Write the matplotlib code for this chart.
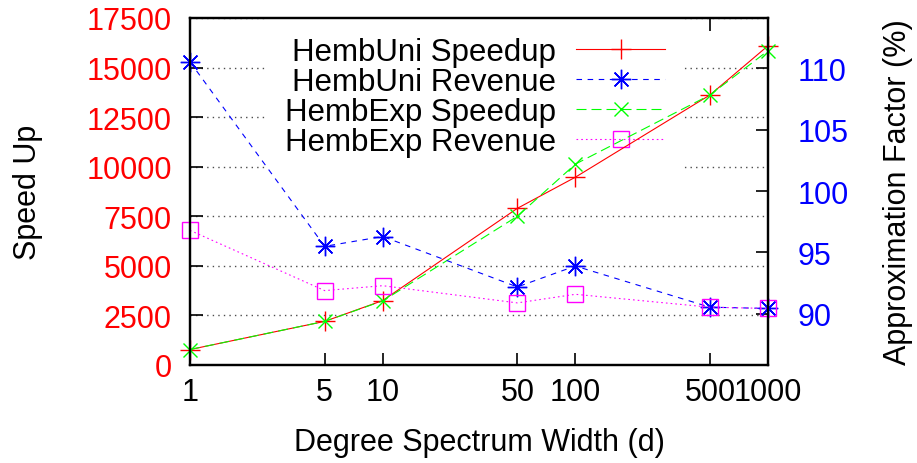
#!/usr/bin/env python3
"""Speedup and approximation factor vs. degree spectrum width (gnuplot-style)."""

import matplotlib
matplotlib.use("Agg")
import matplotlib.pyplot as plt
from matplotlib.ticker import FixedLocator, NullLocator

# data
widths = [1, 5, 10, 50, 100, 500, 1000]
uni_speedup = [780, 2200, 3250, 7900, 9470, 13620, 16100]
exp_speedup = [780, 2200, 3230, 7500, 10130, 13620, 15850]
uni_revenue = [110.5, 95.5, 96.3, 92.2, 93.9, 90.55, 90.45]
exp_revenue = [96.8, 91.9, 92.3, 90.9, 91.6, 90.55, 90.45]

x_ticks = [1, 5, 10, 50, 100, 500, 1000]
left_ticks = [0, 2500, 5000, 7500, 10000, 12500, 15000, 17500]
right_ticks = [90, 95, 100, 105, 110]

plt.rcParams["font.family"] = ["Liberation Sans", "DejaVu Sans"]
plt.rcParams["font.size"] = 22
plt.rcParams["lines.scale_dashes"] = False

fig = plt.figure(figsize=(9.17, 4.64), dpi=100)
ax = fig.add_axes([190 / 917, 98 / 464, 578 / 917, 347 / 464])
ax2 = ax.twinx()

l1, = ax.plot(widths, uni_speedup, color="#ff0000", lw=0.8, marker="+",
              ms=14, mew=1.0, label="HembUni Speedup", clip_on=False)
l3, = ax.plot(widths, exp_speedup, color="#00ff00", lw=0.8, ls=(0, (7.2, 3.6)),
              marker="x", ms=10, mew=1.0, label="HembExp Speedup", clip_on=False)
l2, = ax2.plot(widths, uni_revenue, color="#0000ff", lw=0.8, ls=(0, (4.0, 4.0)),
               marker=(8, 2, 0), ms=14, mew=1.0, label="HembUni Revenue", clip_on=False)
l4, = ax2.plot(widths, exp_revenue, color="#ff00ff", lw=0.8, ls=(0, (1.2, 2.2)),
               marker="s", ms=11, mew=1.0, mfc="none", label="HembExp Revenue",
               clip_on=False)

ax.set_xscale("log")
ax.set_xlim(1, 1000)
ax.xaxis.set_major_locator(FixedLocator(x_ticks))
ax.xaxis.set_minor_locator(NullLocator())
ax.set_xticklabels([str(v) for v in x_ticks])

ax.set_ylim(0, 17500)
ax.set_yticks(left_ticks)
ax2.set_ylim(85.85, 114.07)
ax2.set_yticks(right_ticks)

ax.set_axisbelow(True)
ax.yaxis.grid(True, color="0.3", lw=1.0, ls=(0, (1.0, 3.0)))

ax.tick_params(axis="x", direction="in", length=9, width=1.2, pad=9,
               top=True, colors="black")
ax.tick_params(axis="y", direction="in", length=9, width=1.2, pad=13,
               labelcolor="#ff0000", right=False)
ax2.tick_params(axis="y", direction="in", length=9, width=1.2, pad=21,
                labelcolor="#0000ff")

for a in (ax, ax2):
    for sp in a.spines.values():
        sp.set_linewidth(1.6)

ax.set_xlabel("Degree Spectrum Width (d)")
ax.xaxis.set_label_coords(0.5, -0.178)
ax.set_ylabel("Speed Up")
ax.yaxis.set_label_coords(-0.254, 0.5)
ax2.set_ylabel("Approximation Factor (%)")
ax2.yaxis.set_label_coords(1.199, 0.5)

leg = ax.legend(handles=[l1, l2, l3, l4], loc="upper right",
                bbox_to_anchor=(0.8547, 1.0), borderaxespad=0,
                markerfirst=False, frameon=True, fancybox=False,
                edgecolor="none", facecolor="white", framealpha=1.0,
                fontsize=22.5, handlelength=2.85, handletextpad=0.64,
                labelspacing=0.0, borderpad=0.6)
leg.set_zorder(1)

fig.savefig("out.png", dpi=100)
